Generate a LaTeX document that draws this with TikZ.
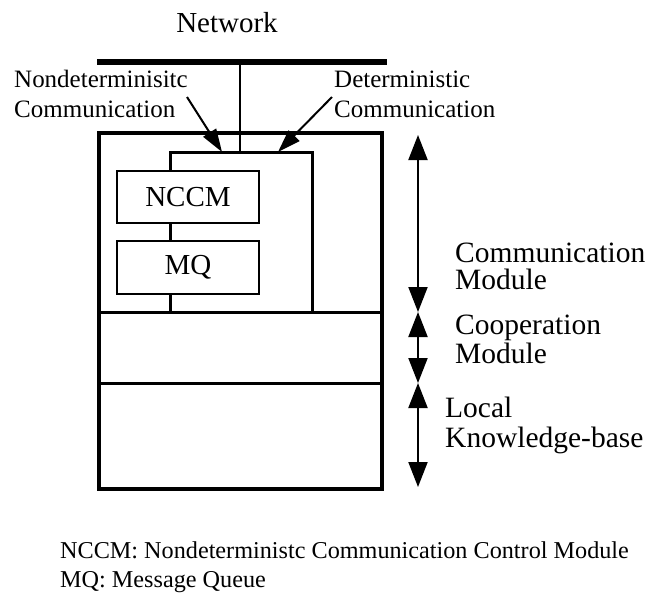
\documentclass[tikz,border=0pt]{standalone}
\usepackage{fontspec}
\setmainfont{Liberation Serif}
\usetikzlibrary{arrows.meta}
\begin{document}
\begin{tikzpicture}[x=1pt,y=-1pt,
  modbox/.style={draw, line width=2.5pt, minimum width=142pt, inner sep=0pt, font=\fontsize{29}{29}\selectfont},
  link/.style={line width=2pt},
  frame/.style={line width=4pt},
  divider/.style={line width=3pt},
  bigtxt/.style={anchor=base west, inner sep=0pt, font=\fontsize{29.5}{30}\selectfont},
  smalltxt/.style={anchor=base west, inner sep=0pt, font=\fontsize{25}{30}\selectfont},
  notetxt/.style={anchor=base west, inner sep=0pt, font=\fontsize{24.2}{30}\selectfont},
  layer/.style={line width=2pt, {Triangle[length=25pt,width=19pt]}-{Triangle[length=25pt,width=19pt]}},
  pointer/.style={line width=2pt, -{Triangle[length=23pt,width=15pt]}}]
\useasboundingbox (0,0) rectangle (648,595);

% network
\node[anchor=base, inner sep=0pt, font=\fontsize{29}{30}\selectfont] (net) at (227,32) {Network};
\coordinate (busl) at (97,62);
\coordinate (busr) at (387,62);
\coordinate (tap) at (240,62);
\draw[line width=6pt] (busl) -- (busr);

% outer frame
\coordinate (otl) at (99,133);
\coordinate (obr) at (382,489);
\draw[frame] (otl) rectangle (obr);
\coordinate (d1l) at (99,312);
\coordinate (d1r) at (382,312);
\coordinate (d2l) at (99,383);
\coordinate (d2r) at (382,383);
\draw[divider] (d1l) -- (d1r);
\draw[divider] (d2l) -- (d2r);

% modules
\node[modbox, minimum height=52pt] (nccm) at (188,197) {NCCM};
\node[modbox, minimum height=53pt] (mq) at (188,267.5) {MQ};

% inner communication box
\coordinate (ibl) at (170,152);
\coordinate (ibr) at (312,152);
\coordinate (ibb) at (312,312);
\coordinate (mqb) at (170,312);
\coordinate (tapend) at (240,152);
\draw[divider] (ibl |- nccm.north) -- (ibl) -- (ibr) -- (ibb);
\draw[divider] (ibl |- nccm.south) -- (ibl |- mq.north);
\draw[divider] (ibl |- mq.south) -- (mqb);
\draw[link] (tap) -- (tapend);

% communication labels
\node[smalltxt] (nd1) at (14,87) {Nondeterminisitc};
\node[smalltxt] (nd2) at (14,117) {Communication};
\node[smalltxt] (dt1) at (334,87) {Deterministic};
\node[smalltxt] (dt2) at (334,117) {Communication};
\coordinate (ndstart) at (187,97);
\coordinate (ndend) at (222,152);
\coordinate (dtstart) at (332,97);
\coordinate (dtend) at (278,152);
\draw[pointer] (ndstart) -- (ndend);
\draw[pointer] (dtstart) -- (dtend);

% layer arrows
\coordinate (a0) at (418,135);
\coordinate (a1) at (418,312);
\coordinate (a2) at (418,383);
\coordinate (a3) at (418,487);
\draw[layer] (a0) -- (a1);
\draw[layer] (a1) -- (a2);
\draw[layer] (a2) -- (a3);

\node[bigtxt] (cm1) at (455,262) {Communication};
\node[bigtxt] (cm2) at (455,289) {Module};
\node[bigtxt] (co1) at (455,334) {Cooperation};
\node[bigtxt] (co2) at (455,363) {Module};
\node[bigtxt] (lk1) at (445,417) {Local};
\node[bigtxt] (lk2) at (445,447) {Knowledge-base};

% footnote
\node[notetxt] (fn1) at (60,558) {NCCM: Nondeterministc Communication Control Module};
\node[notetxt] (fn2) at (60,587) {MQ: Message Queue};
\end{tikzpicture}
\end{document}
